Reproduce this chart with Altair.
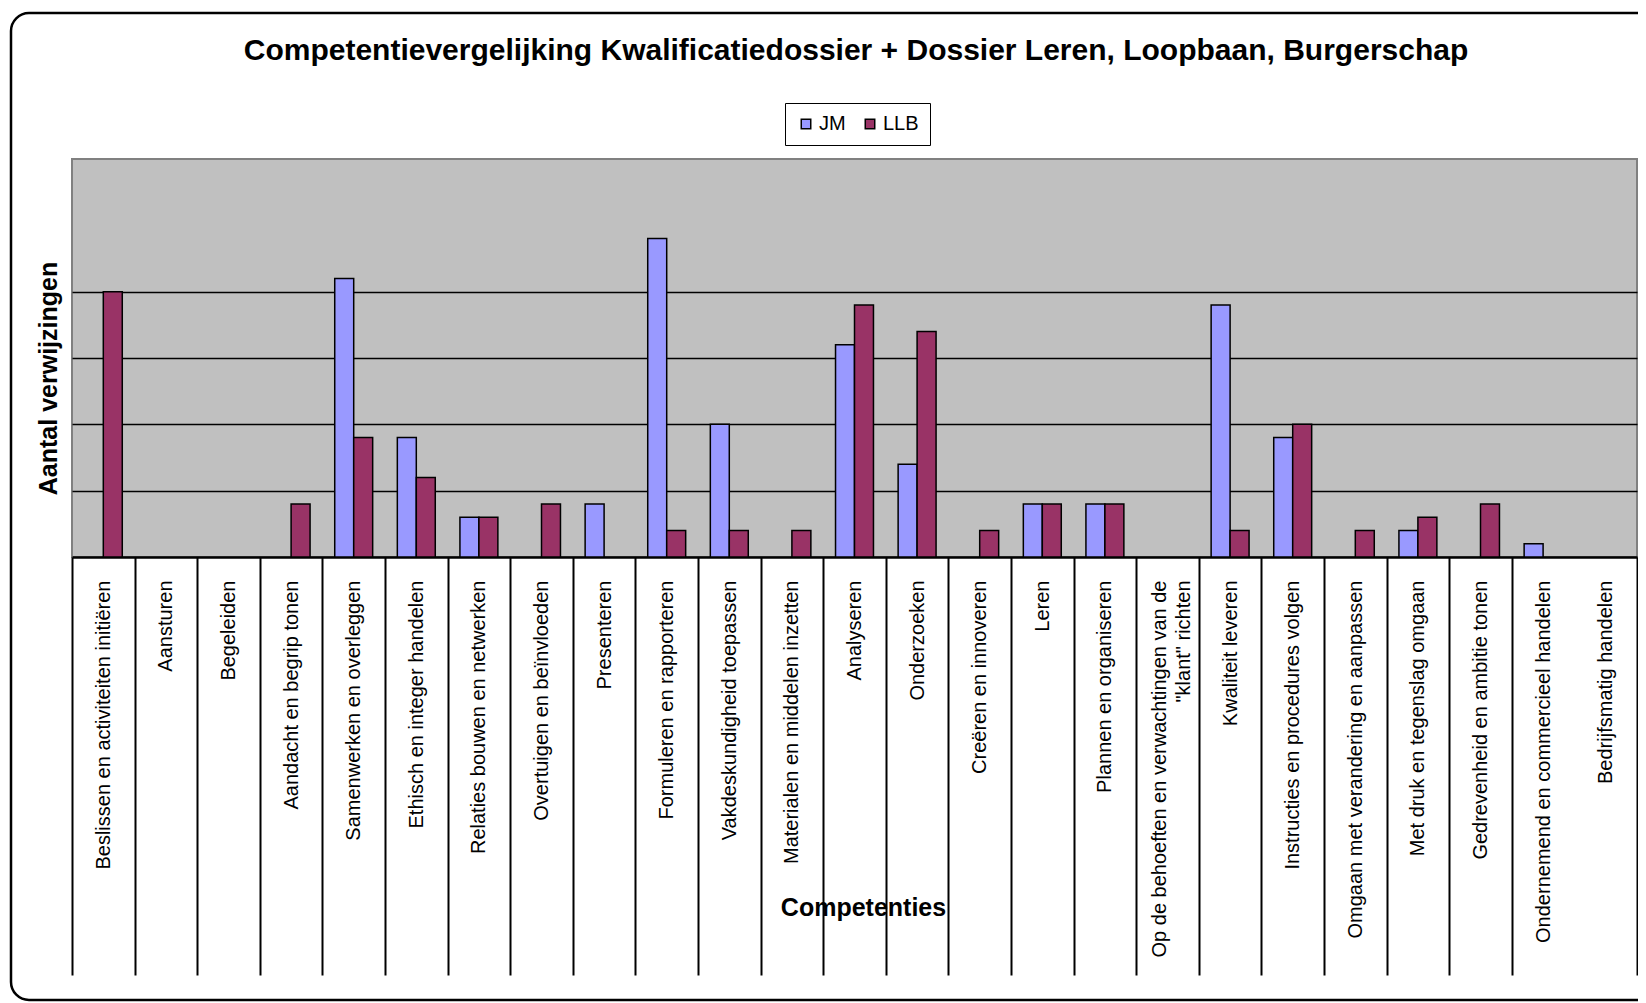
import json
import altair as alt
import pandas as pd

FONT = "Liberation Sans"
TITLE = "Competentievergelijking Kwalificatiedossier + Dossier Leren, Loopbaan, Burgerschap"

categories = [
    "Beslissen en activiteiten initiëren",
    "Aansturen",
    "Begeleiden",
    "Aandacht en begrip tonen",
    "Samenwerken en overleggen",
    "Ethisch en integer handelen",
    "Relaties bouwen en netwerken",
    "Overtuigen en beïnvloeden",
    "Presenteren",
    "Formuleren en rapporteren",
    "Vakdeskundigheid toepassen",
    "Materialen en middelen inzetten",
    "Analyseren",
    "Onderzoeken",
    "Creëren en innoveren",
    "Leren",
    "Plannen en organiseren",
    'Op de behoeften en verwachtingen van de "klant" richten',
    "Kwaliteit leveren",
    "Instructies en procedures volgen",
    "Omgaan met verandering en aanpassen",
    "Met druk en tegenslag omgaan",
    "Gedrevenheid en ambitie tonen",
    "Ondernemend en commercieel handelen",
    "Bedrijfsmatig handelen",
]
jm = [0, 0, 0, 0, 21, 9, 3, 0, 4, 24, 10, 0, 16, 7, 0, 4, 4, 0, 19, 9, 0, 2, 0, 1, 0]
llb = [20, 0, 0, 4, 9, 6, 3, 4, 0, 2, 2, 2, 19, 17, 2, 4, 4, 0, 2, 10, 2, 3, 4, 0, 0]
series = ["JM", "LLB"]
colors = ["#9999FF", "#993366"]
grid_values = [5, 10, 15, 20]

rows = []
for c, a, b in zip(categories, jm, llb):
    rows.append({"Competentie": c, "Reeks": "JM", "Aantal": a})
    rows.append({"Competentie": c, "Reeks": "LLB", "Aantal": b})
df = pd.DataFrame(rows)

long_label = categories[17]
wrapped = ["Op de behoeften en verwachtingen van de", '"klant" richten']
label_expr = f"datum.label == {json.dumps(long_label)} ? {json.dumps(wrapped)} : datum.label"
label_offset = {
    "condition": {"test": f"datum.value == {json.dumps(long_label)}", "value": -8},
    "value": 0,
}
tick_color = {
    "condition": {"test": f"datum.value == {json.dumps(categories[23])}", "value": "transparent"},
    "value": "black",
}

W, H = 1565, 398

bars = alt.Chart(df).transform_filter("datum.Aantal > 0").mark_bar(
    stroke="black", strokeWidth=1.5
).encode(
    x=alt.X(
        "Competentie:N",
        sort=categories,
        scale=alt.Scale(domain=categories, paddingInner=0, paddingOuter=0),
        axis=alt.Axis(
            title="Competenties",
            titleFont=FONT, titleFontSize=25, titleFontWeight="bold", titleColor="black",
            titleX=791, titleY=350, titleBaseline="middle",
            labelAngle=-90, labelFont=FONT, labelFontSize=20, labelColor="black",
            labelPadding=-395, labelLimit=600, labelOverlap=False, labelExpr=label_expr,
            labelLineHeight=24, labelOffset=label_offset,
            tickBand="extent", tickSize=418, tickWidth=2, tickColor=tick_color,
            domainColor="black", domainWidth=2.5,
        ),
    ),
    xOffset=alt.XOffset(
        "Reeks:N", sort=series,
        scale=alt.Scale(domain=series, paddingInner=0, paddingOuter=0.65),
    ),
    y=alt.Y(
        "Aantal:Q",
        scale=alt.Scale(domain=[0, 30], nice=False),
        axis=alt.Axis(
            values=grid_values, grid=True, gridColor="black", gridWidth=1.5, gridOpacity=1,
            labels=False, ticks=False, domain=False,
            title="Aantal verwijzingen",
            titleFont=FONT, titleFontSize=25, titleFontWeight="bold", titleColor="black",
            titleX=-11, titleY=219,
        ),
    ),
    color=alt.Color(
        "Reeks:N", sort=series,
        scale=alt.Scale(domain=series, range=colors),
        legend=alt.Legend(
            title=None, orient="none", legendX=713, legendY=-56, direction="horizontal",
            symbolType="square", symbolSize=90, symbolStrokeColor="black", symbolStrokeWidth=1.5,
            labelFont=FONT, labelFontSize=20, labelColor="black", labelOffset=3,
            columnPadding=14, padding=11, strokeColor="black", fillColor="white",
        ),
    ),
)

frame = alt.Chart(alt.Data(values=[{"a": 1}])).mark_rect(
    filled=False, stroke="black", strokeWidth=2.5, cornerRadius=18
).encode(
    x=alt.value(-61), x2=alt.value(1700), y=alt.value(-146), y2=alt.value(841)
)

title = alt.Chart(alt.Data(values=[{"t": TITLE}])).mark_text(
    font=FONT, fontSize=30, fontWeight="bold", color="black", align="center", baseline="middle"
).encode(text="t:N", x=alt.value(784), y=alt.value(-108))

chart = alt.layer(frame, bars, title).properties(
    width=W, height=H,
    autosize=alt.AutoSizeParams(type="none"),
    padding={"left": 64, "top": 151, "right": 1, "bottom": 445},
    background="white",
).configure_view(
    fill="#C0C0C0", stroke="#808080", strokeWidth=2
)

chart.save("out.html", embed_options={"renderer": "svg", "actions": False})
